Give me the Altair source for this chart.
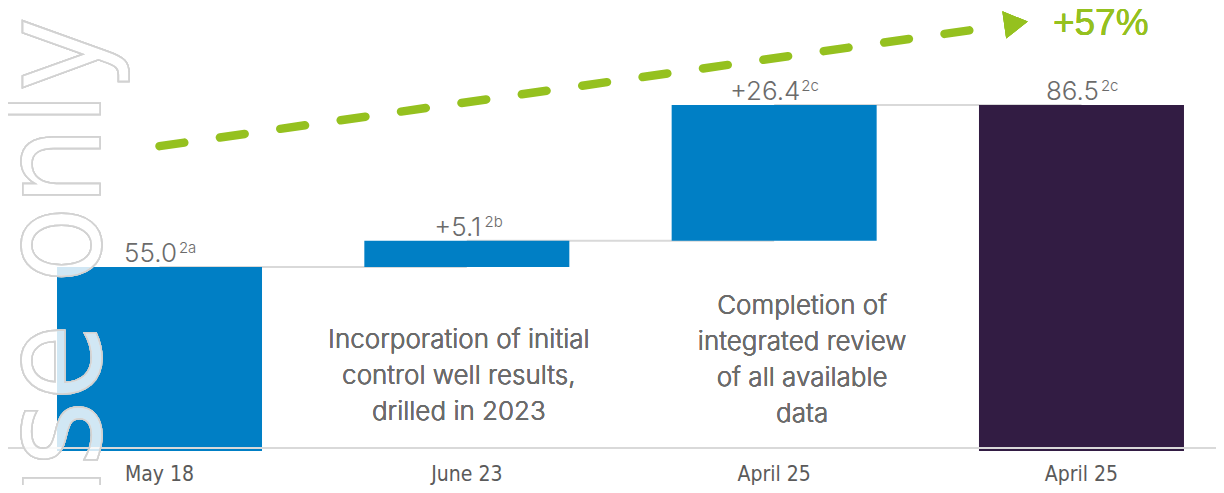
import altair as alt
import pandas as pd

# ---------------- data ----------------
categories = ["May 18", "June 23", "April 25", "April 25"]
values = [55.0, 5.1, 26.4, 86.5]
kinds = ["total", "delta", "delta", "total"]
value_labels = ["55.0", "+5.1", "+26.4", "86.5"]
footnotes = ["2a", "2b", "2c", "2c"]
annotation_1 = ["Incorporation of initial", "control well results,", "drilled in 2023"]
annotation_2 = ["Completion of", "integrated review", "of all available", "data"]
change_label = "+57%"
watermark_text = "Internal use only"

# truncated value axis (bars start at this floor)
AXIS_FLOOR = 19.2
W, H = 1208, 477
Y_DOMAIN = [12.61, 105.36]
X_DOMAIN = [-0.493, 3.4377]
PX_PER_IDX = W / (X_DOMAIN[1] - X_DOMAIN[0])

# trend arrow (index, value) in chart units
arrow_x = [0.0, 2.75]
arrow_y = [78.5, 102.0]
arrow_head = (2.787, 102.4)
change_pos = (2.907, 100.1)

BLUE = "#007fc5"
PURPLE = "#321c43"
GREEN = "#95c11f"
GREY_TXT = "#6b6b6b"
GREY_LINE = "#d9d9d9"
TXT_FONT = "Inter"

# ---------------- build table ----------------
rows = []
level = AXIS_FLOOR
for i, (c, v, k, lab, fn) in enumerate(zip(categories, values, kinds, value_labels, footnotes)):
    if k == "total":
        start, end = AXIS_FLOOR, v
    else:
        start, end = level, level + v
    level = end
    rows.append(dict(idx=i, cat=c, start=start, end=end, kind=k, label=lab, fn=fn,
                     color=PURPLE if (k == "total" and i == len(categories) - 1) else BLUE))
df = pd.DataFrame(rows)

# approximate label widths (px) to put the superscript right after the number
MAIN_DX = -9
char_w = {".": 7.0, "+": 15.6, "1": 12.0}
fn_dx = [MAIN_DX + sum(char_w.get(ch, 15.6) for ch in s) / 2 + 1.5 for s in value_labels]
df["fn_x"] = df["idx"] + pd.Series(fn_dx) / PX_PER_IDX

conn = pd.DataFrame({"x": list(range(len(categories) - 1)),
                     "x2": list(range(1, len(categories))),
                     "y": df["end"].iloc[:-1].tolist()})

arrow_df = pd.DataFrame({"x": arrow_x, "y": arrow_y})

xs = alt.Scale(domain=X_DOMAIN, nice=False, zero=False, padding=0)
ys = alt.Scale(domain=Y_DOMAIN, nice=False, zero=False, padding=0)

X = lambda f: alt.X(f, type="quantitative", scale=xs, axis=None)
Y = lambda f: alt.Y(f, type="quantitative", scale=ys, axis=None)

connectors = alt.Chart(conn).mark_rule(color=GREY_LINE, strokeWidth=2).encode(
    x=X("x"), x2="x2", y=Y("y"))

bars = alt.Chart(df).mark_bar(size=205).encode(
    x=X("idx"), y=Y("start"), y2="end",
    color=alt.Color("color:N", scale=None, legend=None))

axis_line = alt.Chart(df).mark_rule(color=GREY_LINE, strokeWidth=2).encode(
    x=alt.value(-5), x2=alt.value(W), y=alt.value(440))

main_lbl = alt.Chart(df).mark_text(
    font=TXT_FONT, fontWeight=300, fontSize=26, color=GREY_TXT,
    align="center", baseline="alphabetic", dx=MAIN_DX, dy=-5).encode(
    x=X("idx"), y=Y("end"), text="label:N")

sup_lbl = alt.Chart(df).mark_text(
    font=TXT_FONT, fontWeight=300, fontSize=15, color=GREY_TXT,
    align="left", baseline="alphabetic", dy=-14).encode(
    x=X("fn_x"), y=Y("end"), text="fn:N")

cat_lbl = alt.Chart(df).mark_text(
    font="DejaVu Sans Condensed", fontSize=21, color="#5a5a5a",
    align="center", baseline="alphabetic").encode(
    x=X("idx"), y=alt.value(473), text="cat:N")

ann1 = alt.Chart(df).mark_text(
    text=annotation_1, font=TXT_FONT, fontWeight=300, fontSize=26, color=GREY_TXT,
    align="center", baseline="alphabetic", lineHeight=36, dx=-8).encode(
    x=alt.datum(1, scale=xs, axis=None), y=alt.value(340))

ann2 = alt.Chart(df).mark_text(
    text=annotation_2, font=TXT_FONT, fontWeight=300, fontSize=26, color=GREY_TXT,
    align="center", baseline="alphabetic", lineHeight=36, dx=28).encode(
    x=alt.datum(2, scale=xs, axis=None), y=alt.value(305.5))

trend = alt.Chart(arrow_df).mark_line(
    color=GREEN, strokeWidth=8.5, strokeDash=[25, 36], strokeCap="round").encode(
    x=X("x"), y=Y("y"))

head = alt.Chart(df).mark_point(
    shape="triangle-right", filled=True, size=750, color=GREEN, opacity=1, angle=352).encode(
    x=alt.datum(arrow_head[0], scale=xs, axis=None), y=alt.datum(arrow_head[1], scale=ys, axis=None))

change = alt.Chart(df).mark_text(
    text=change_label, font="Liberation Sans", fontWeight="normal", fontSize=37, color=GREEN,
    align="left", baseline="alphabetic").encode(
    x=alt.datum(change_pos[0], scale=xs, axis=None), y=alt.datum(change_pos[1], scale=ys, axis=None))

watermark = alt.Chart(df).mark_text(
    text=watermark_text, font="DejaVu Sans Condensed", fontSize=140, angle=270,
    align="right", baseline="alphabetic", fill="white", fillOpacity=0.35,
    stroke="#d2d2d2", strokeWidth=1.5).encode(
    x=alt.value(92), y=alt.value(9))

chart = alt.layer(
    connectors, bars, axis_line, main_lbl, sup_lbl, cat_lbl, ann1, ann2,
    trend, head, change, watermark
).properties(
    width=W, height=H, padding=0,
    autosize=alt.AutoSizeParams(type="none"),
    background="white",
).configure_view(stroke=None)

chart.save("out.html", embed_options={"renderer": "svg", "actions": False})
